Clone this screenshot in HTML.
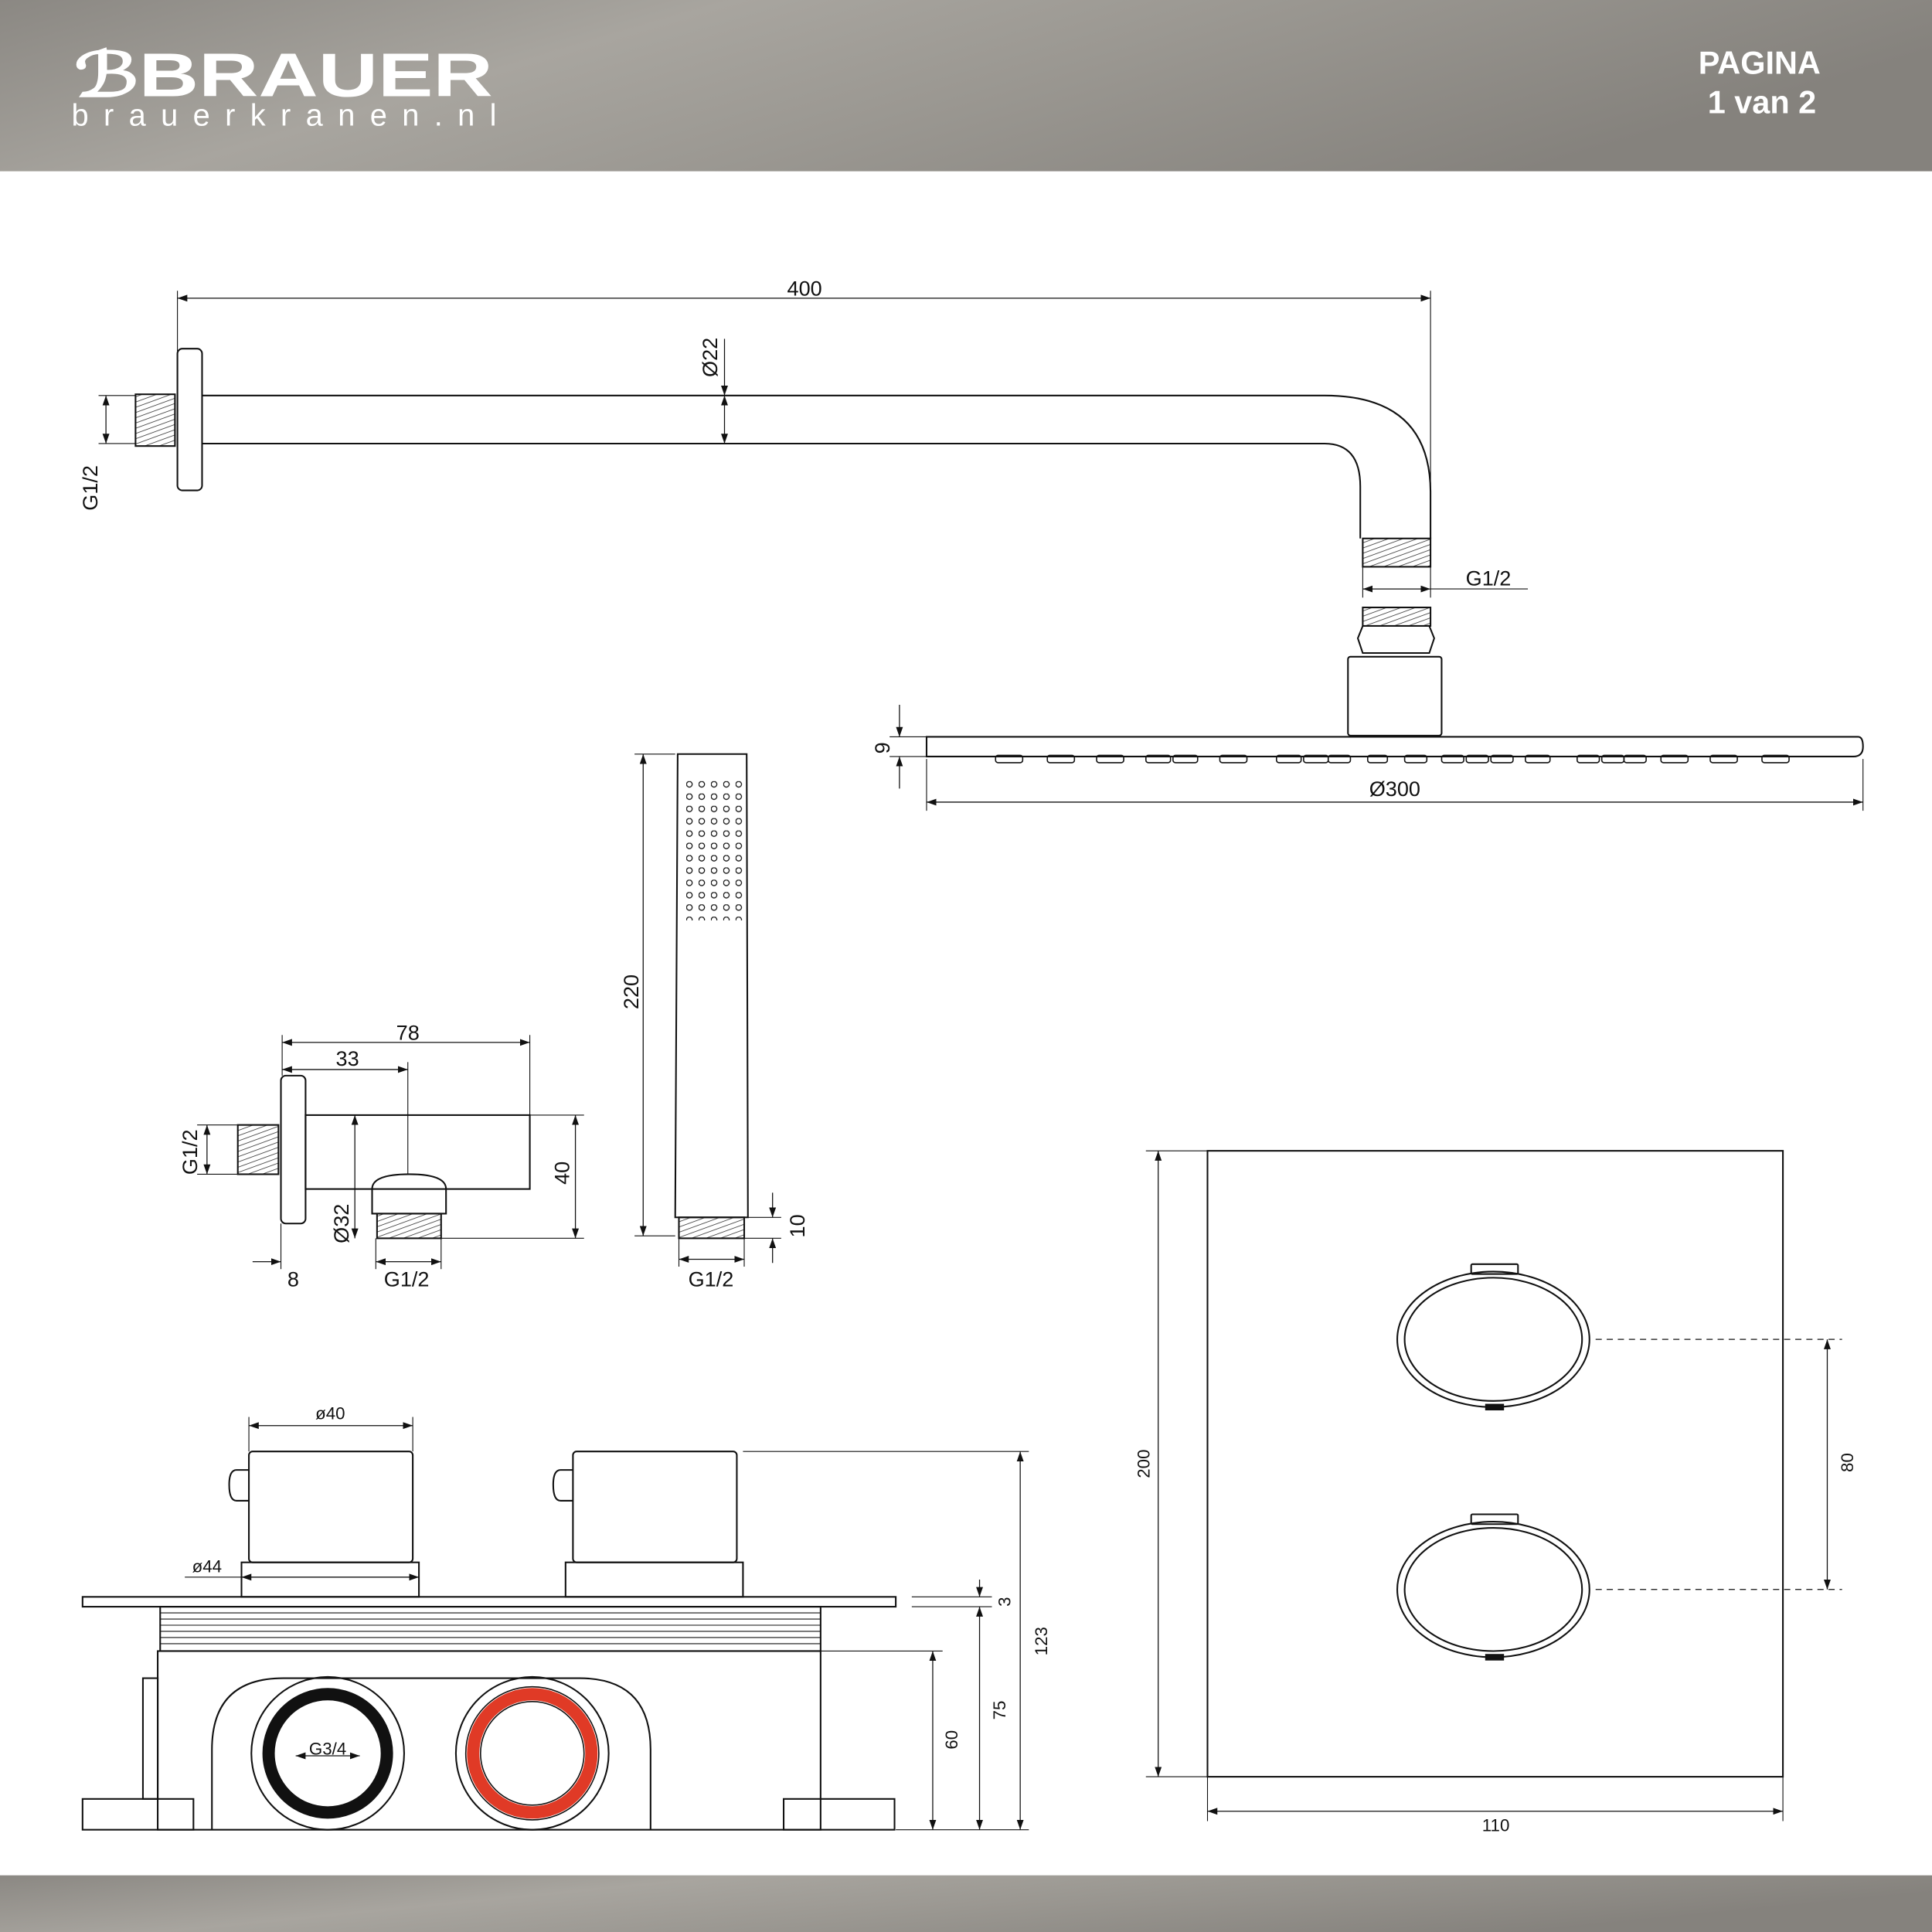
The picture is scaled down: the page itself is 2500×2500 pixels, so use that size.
<!DOCTYPE html>
<html><head><meta charset="utf-8"><style>
html,body{margin:0;padding:0;background:#fff}
svg{display:block}
text{font-family:"Liberation Sans",sans-serif;fill:#111}
</style></head><body>
<svg width="2500" height="2500" viewBox="0 0 1568 1568" xmlns="http://www.w3.org/2000/svg">
<defs>
<linearGradient id="hd" x1="0" y1="0" x2="1" y2="0.3">
<stop offset="0" stop-color="#8b8883"/><stop offset="0.35" stop-color="#a8a59f"/><stop offset="0.6" stop-color="#9b9892"/><stop offset="1" stop-color="#85827d"/></linearGradient>
<marker id="a" viewBox="0 0 10 10" refX="10" refY="5" markerWidth="8" markerHeight="8" orient="auto-start-reverse" markerUnits="userSpaceOnUse"><path d="M0,1.5 L10,5 L0,8.5z" fill="#111"/></marker>
<pattern id="th" width="4" height="4" patternUnits="userSpaceOnUse" patternTransform="rotate(70)"><line x1="0" y1="0" x2="0" y2="4" stroke="#333" stroke-width="1"/></pattern>
<pattern id="dots" x="557" y="634" width="10" height="10" patternUnits="userSpaceOnUse"><circle cx="2.5" cy="2.5" r="2.3" fill="none" stroke="#111" stroke-width="0.8"/></pattern>
</defs>
<rect x="0" y="0" width="1568" height="139" fill="url(#hd)"/>
<rect x="0" y="1522" width="1568" height="46" fill="url(#hd)"/>
<text x="60" y="78" font-size="50" font-weight="bold" textLength="340" lengthAdjust="spacingAndGlyphs" style="fill:#fff">ℬBRAUER</text>
<text x="58" y="102" font-size="25" textLength="345" lengthAdjust="spacing" style="fill:#fff">brauerkranen.nl</text>
<text x="1428" y="60" font-size="26" font-weight="bold" text-anchor="middle" style="fill:#fff">PAGINA</text>
<text x="1430" y="92" font-size="26" font-weight="bold" text-anchor="middle" style="fill:#fff">1 van 2</text>

<rect x="555" y="632" width="50" height="115" fill="url(#dots)"/>

<g fill="none" stroke="#111" stroke-width="1.3">
<line x1="144" y1="236" x2="144" y2="285" stroke-width="0.7"/><line x1="1161" y1="236" x2="1161" y2="437" stroke-width="0.7"/>
<line x1="144" y1="242" x2="1161" y2="242" marker-start="url(#a)" marker-end="url(#a)" stroke-width="0.8"/>
<rect x="144" y="283" width="20" height="115" rx="4"/>
<rect x="110" y="320" width="32" height="42" fill="url(#th)"/>
<path d="M164,321 H1075 Q1161,321 1161,400 V437"/>
<path d="M164,360 H1075 Q1104,360 1104,395 V437"/>
<rect x="1106" y="437" width="55" height="23" fill="url(#th)"/>
<line x1="1106" y1="460" x2="1106" y2="485" stroke-width="0.7"/><line x1="1161" y1="460" x2="1161" y2="485" stroke-width="0.7"/>
<line x1="1106" y1="478" x2="1161" y2="478" marker-start="url(#a)" marker-end="url(#a)" stroke-width="0.8"/>
<line x1="1161" y1="478" x2="1240" y2="478" stroke-width="0.7"/>
<line x1="80" y1="321" x2="110" y2="321" stroke-width="0.7"/><line x1="80" y1="360" x2="110" y2="360" stroke-width="0.7"/>
<line x1="86" y1="321" x2="86" y2="360" marker-start="url(#a)" marker-end="url(#a)" stroke-width="0.8"/>
<line x1="588" y1="275" x2="588" y2="321" marker-end="url(#a)" stroke-width="0.8"/>
<line x1="588" y1="321" x2="588" y2="360" marker-start="url(#a)" marker-end="url(#a)" stroke-width="0.8"/>
<rect x="1106" y="493" width="55" height="15" fill="url(#th)"/>
<path d="M1106,508 L1102,518 L1106,530 H1160 L1164,518 L1160,508"/>
<rect x="1094" y="533" width="76" height="64" rx="2"/>
<path d="M752,598 H1508 Q1512,598 1512,606 Q1512,614 1504,614 H752 Z"/>
<g stroke-width="1">
<rect x="808" y="613" width="22" height="6" rx="2"/><rect x="850" y="613" width="22" height="6" rx="2"/><rect x="890" y="613" width="22" height="6" rx="2"/><rect x="930" y="613" width="20" height="6" rx="2"/><rect x="952" y="613" width="20" height="6" rx="2"/><rect x="990" y="613" width="22" height="6" rx="2"/><rect x="1036" y="613" width="20" height="6" rx="2"/><rect x="1058" y="613" width="20" height="6" rx="2"/><rect x="1078" y="613" width="18" height="6" rx="2"/><rect x="1110" y="613" width="16" height="6" rx="2"/><rect x="1140" y="613" width="18" height="6" rx="2"/><rect x="1170" y="613" width="18" height="6" rx="2"/><rect x="1190" y="613" width="18" height="6" rx="2"/><rect x="1210" y="613" width="18" height="6" rx="2"/><rect x="1238" y="613" width="20" height="6" rx="2"/><rect x="1280" y="613" width="18" height="6" rx="2"/><rect x="1300" y="613" width="18" height="6" rx="2"/><rect x="1318" y="613" width="18" height="6" rx="2"/><rect x="1348" y="613" width="22" height="6" rx="2"/><rect x="1388" y="613" width="22" height="6" rx="2"/><rect x="1430" y="613" width="22" height="6" rx="2"/>
</g>
<line x1="722" y1="598" x2="752" y2="598" stroke-width="0.7"/><line x1="722" y1="614" x2="752" y2="614" stroke-width="0.7"/>
<line x1="730" y1="572" x2="730" y2="598" marker-end="url(#a)" stroke-width="0.8"/>
<line x1="730" y1="640" x2="730" y2="614" marker-end="url(#a)" stroke-width="0.8"/>
<line x1="752" y1="616" x2="752" y2="658" stroke-width="0.7"/><line x1="1512" y1="616" x2="1512" y2="658" stroke-width="0.7"/>
<line x1="752" y1="651" x2="1512" y2="651" marker-start="url(#a)" marker-end="url(#a)" stroke-width="0.8"/>
<path d="M550,612 H606 L607,988 H548 Z"/>
<rect x="551" y="988" width="53" height="17" fill="url(#th)"/>
<line x1="515" y1="612" x2="548" y2="612" stroke-width="0.7"/><line x1="515" y1="1003" x2="548" y2="1003" stroke-width="0.7"/>
<line x1="522" y1="612" x2="522" y2="1003" marker-start="url(#a)" marker-end="url(#a)" stroke-width="0.8"/>
<line x1="604" y1="988" x2="634" y2="988" stroke-width="0.7"/><line x1="604" y1="1005" x2="634" y2="1005" stroke-width="0.7"/>
<line x1="627" y1="968" x2="627" y2="988" marker-end="url(#a)" stroke-width="0.8"/>
<line x1="627" y1="1025" x2="627" y2="1005" marker-end="url(#a)" stroke-width="0.8"/>
<line x1="551" y1="1005" x2="551" y2="1028" stroke-width="0.7"/><line x1="604" y1="1005" x2="604" y2="1028" stroke-width="0.7"/>
<line x1="551" y1="1022" x2="604" y2="1022" marker-start="url(#a)" marker-end="url(#a)" stroke-width="0.8"/>
<rect x="228" y="873" width="20" height="120" rx="4"/>
<rect x="193" y="913" width="33" height="40" fill="url(#th)"/>
<rect x="248" y="905" width="182" height="60"/>
<path d="M302,985 V965 Q302,953 332,953 Q362,953 362,965 V985 Z"/>
<rect x="306" y="985" width="52" height="20" fill="url(#th)"/>
<line x1="229" y1="840" x2="229" y2="873" stroke-width="0.7"/><line x1="430" y1="840" x2="430" y2="905" stroke-width="0.7"/><line x1="331" y1="862" x2="331" y2="953" stroke-width="0.7"/>
<line x1="229" y1="846" x2="430" y2="846" marker-start="url(#a)" marker-end="url(#a)" stroke-width="0.8"/>
<line x1="229" y1="868" x2="331" y2="868" marker-start="url(#a)" marker-end="url(#a)" stroke-width="0.8"/>
<line x1="430" y1="905" x2="474" y2="905" stroke-width="0.7"/><line x1="358" y1="1005" x2="474" y2="1005" stroke-width="0.7"/>
<line x1="467" y1="905" x2="467" y2="1005" marker-start="url(#a)" marker-end="url(#a)" stroke-width="0.8"/>
<line x1="288" y1="905" x2="288" y2="1005" marker-start="url(#a)" marker-end="url(#a)" stroke-width="0.8"/>
<line x1="160" y1="913" x2="193" y2="913" stroke-width="0.7"/><line x1="160" y1="953" x2="193" y2="953" stroke-width="0.7"/>
<line x1="168" y1="913" x2="168" y2="953" marker-start="url(#a)" marker-end="url(#a)" stroke-width="0.8"/>
<line x1="228" y1="993" x2="228" y2="1030" stroke-width="0.7"/><line x1="305" y1="1005" x2="305" y2="1030" stroke-width="0.7"/><line x1="358" y1="1005" x2="358" y2="1030" stroke-width="0.7"/>
<line x1="205" y1="1024" x2="228" y2="1024" marker-end="url(#a)" stroke-width="0.8"/>
<line x1="305" y1="1024" x2="358" y2="1024" marker-start="url(#a)" marker-end="url(#a)" stroke-width="0.8"/>
<rect x="67" y="1296" width="660" height="8"/>
<rect x="202" y="1178" width="133" height="90" rx="3"/><path d="M202,1193 H192 Q186,1193 186,1205 Q186,1218 192,1218 H202"/>
<rect x="196" y="1268" width="144" height="28"/>
<rect x="465" y="1178" width="133" height="90" rx="3"/><path d="M465,1193 H455 Q449,1193 449,1205 Q449,1218 455,1218 H465"/>
<rect x="459" y="1268" width="144" height="28"/>
<rect x="130" y="1304" width="536" height="36"/>
<g stroke-width="0.7"><line x1="130" y1="1309" x2="666" y2="1309"/><line x1="130" y1="1314" x2="666" y2="1314"/><line x1="130" y1="1319" x2="666" y2="1319"/><line x1="130" y1="1324" x2="666" y2="1324"/><line x1="130" y1="1329" x2="666" y2="1329"/><line x1="130" y1="1334" x2="666" y2="1334"/></g>
<rect x="128" y="1340" width="538" height="145"/>
<rect x="116" y="1362" width="12" height="98"/>
<rect x="67" y="1460" width="90" height="25"/><rect x="636" y="1460" width="90" height="25"/>
<path d="M172,1485 V1420 Q172,1362 230,1362 H470 Q528,1362 528,1420 V1485"/>
<circle cx="266" cy="1423" r="62"/><circle cx="432" cy="1423" r="62"/>
<circle cx="266" cy="1423" r="48" stroke="#111" stroke-width="10"/>
<circle cx="432" cy="1423" r="48" stroke="#e03a26" stroke-width="10"/>
<circle cx="432" cy="1423" r="54" stroke-width="1"/><circle cx="432" cy="1423" r="42" stroke-width="1"/>
<line x1="240" y1="1425" x2="292" y2="1425" marker-start="url(#a)" marker-end="url(#a)" stroke-width="0.8"/>
<line x1="202" y1="1150" x2="202" y2="1178" stroke-width="0.7"/><line x1="335" y1="1150" x2="335" y2="1178" stroke-width="0.7"/>
<line x1="202" y1="1157" x2="335" y2="1157" marker-start="url(#a)" marker-end="url(#a)" stroke-width="0.8"/>
<line x1="196" y1="1280" x2="340" y2="1280" marker-start="url(#a)" marker-end="url(#a)" stroke-width="0.8"/>
<line x1="150" y1="1280" x2="196" y2="1280" stroke-width="0.7"/>
<line x1="603" y1="1178" x2="835" y2="1178" stroke-width="0.7"/><line x1="727" y1="1485" x2="835" y2="1485" stroke-width="0.7"/>
<line x1="740" y1="1296" x2="805" y2="1296" stroke-width="0.7"/><line x1="740" y1="1304" x2="805" y2="1304" stroke-width="0.7"/>
<line x1="666" y1="1340" x2="765" y2="1340" stroke-width="0.7"/>
<line x1="828" y1="1178" x2="828" y2="1485" marker-start="url(#a)" marker-end="url(#a)" stroke-width="0.8"/>
<line x1="795" y1="1304" x2="795" y2="1485" marker-start="url(#a)" marker-end="url(#a)" stroke-width="0.8"/>
<line x1="795" y1="1282" x2="795" y2="1296" marker-end="url(#a)" stroke-width="0.8"/>
<line x1="757" y1="1340" x2="757" y2="1485" marker-start="url(#a)" marker-end="url(#a)" stroke-width="0.8"/>
<rect x="980" y="934" width="467" height="508"/>
<ellipse cx="1212" cy="1087" rx="78" ry="55"/><ellipse cx="1212" cy="1087" rx="72" ry="50"/>
<ellipse cx="1212" cy="1290" rx="78" ry="55"/><ellipse cx="1212" cy="1290" rx="72" ry="50"/>
<rect x="1194" y="1026" width="38" height="8" rx="1"/><rect x="1194" y="1229" width="38" height="8" rx="1"/>
<rect x="1206" y="1140" width="14" height="4" fill="#111"/><rect x="1206" y="1343" width="14" height="4" fill="#111"/>
<line x1="1295" y1="1087" x2="1495" y2="1087" stroke-dasharray="5,4" stroke-width="0.8"/>
<line x1="1295" y1="1290" x2="1495" y2="1290" stroke-dasharray="5,4" stroke-width="0.8"/>
<line x1="1483" y1="1087" x2="1483" y2="1290" marker-start="url(#a)" marker-end="url(#a)" stroke-width="0.8"/>
<line x1="930" y1="934" x2="980" y2="934" stroke-width="0.7"/><line x1="930" y1="1442" x2="980" y2="1442" stroke-width="0.7"/>
<line x1="940" y1="934" x2="940" y2="1442" marker-start="url(#a)" marker-end="url(#a)" stroke-width="0.8"/>
<line x1="980" y1="1442" x2="980" y2="1478" stroke-width="0.7"/><line x1="1447" y1="1442" x2="1447" y2="1478" stroke-width="0.7"/>
<line x1="980" y1="1470" x2="1447" y2="1470" marker-start="url(#a)" marker-end="url(#a)" stroke-width="0.8"/>
</g>

<g font-size="17">
<text x="653" y="240" text-anchor="middle">400</text>
<text x="1208" y="475" text-anchor="middle">G1/2</text>
<text transform="translate(79,396) rotate(-90)" text-anchor="middle">G1/2</text>
<text transform="translate(582,290) rotate(-90)" text-anchor="middle">Ø22</text>
<text transform="translate(722,607) rotate(-90)" text-anchor="middle">9</text>
<text x="1132" y="646" text-anchor="middle">Ø300</text>
<text transform="translate(518,805) rotate(-90)" text-anchor="middle">220</text>
<text transform="translate(653,995) rotate(-90)" text-anchor="middle">10</text>
<text x="577" y="1044" text-anchor="middle">G1/2</text>
<text x="331" y="844" text-anchor="middle">78</text>
<text x="282" y="865" text-anchor="middle">33</text>
<text transform="translate(462,952) rotate(-90)" text-anchor="middle">40</text>
<text transform="translate(283,993) rotate(-90)" text-anchor="middle">Ø32</text>
<text transform="translate(160,935) rotate(-90)" text-anchor="middle">G1/2</text>
<text x="238" y="1044" text-anchor="middle">8</text>
<text x="330" y="1044" text-anchor="middle">G1/2</text>
</g>
<g font-size="14">
<text x="268" y="1152" text-anchor="middle">ø40</text>
<text x="168" y="1276" text-anchor="middle">ø44</text>
<text x="266" y="1424" text-anchor="middle">G3/4</text>
<text transform="translate(850,1332) rotate(-90)" text-anchor="middle">123</text>
<text transform="translate(816,1388) rotate(-90)" text-anchor="middle">75</text>
<text transform="translate(777,1412) rotate(-90)" text-anchor="middle">60</text>
<text transform="translate(820,1300) rotate(-90)" text-anchor="middle">3</text>
<text transform="translate(1504,1187) rotate(-90)" text-anchor="middle">80</text>
<text transform="translate(933,1188) rotate(-90)" text-anchor="middle">200</text>
<text x="1214" y="1486" text-anchor="middle">110</text>
</g>
</svg>
</body></html>
